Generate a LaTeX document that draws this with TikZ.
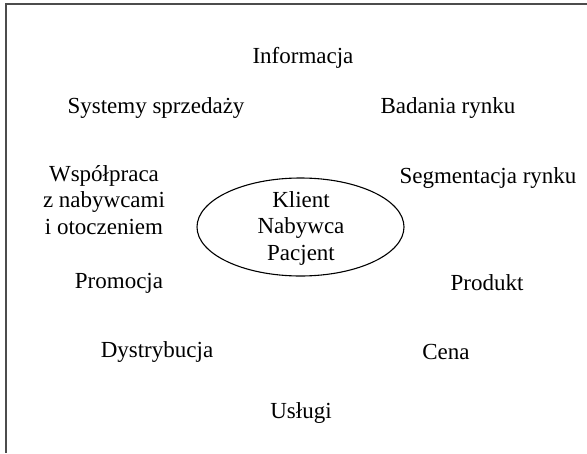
\documentclass[tikz,border=0pt]{standalone}
\usepackage{fontspec}
\setmainfont{Liberation Serif}
\usetikzlibrary{shapes.geometric}
\begin{document}
\begin{tikzpicture}[x=1pt,y=-1pt,
  lbl/.style={inner sep=0pt, align=center, font=\fontsize{23}{26.5}\selectfont},
  frameline/.style={line width=1.6pt, draw=black!70}]
\useasboundingbox (0,0) rectangle (587,453);
\coordinate (tl) at (6,4);
\coordinate (tr) at (587,4);
\coordinate (bl) at (6,453);
\draw[frameline] (tr) -- (tl) -- (bl);
\node[draw, ellipse, line width=1.1pt, minimum width=207pt, minimum height=98pt, inner sep=0pt] (c) at (300.5,227) {};
\node[lbl] (klient) at (301,228) {Klient\\Nabywca\\Pacjent};
\node[lbl] (info) at (303,58) {Informacja};
\node[lbl] (sys) at (156,108) {Systemy sprzedaży};
\node[lbl] (bad) at (448,108) {Badania rynku};
\node[lbl] (wsp) at (104,200) {Współpraca\\z nabywcami\\i otoczeniem};
\node[lbl] (seg) at (488,178) {Segmentacja rynku};
\node[lbl] (prom) at (119,283) {Promocja};
\node[lbl] (prod) at (487,283) {Produkt};
\node[lbl] (dys) at (157,352) {Dystrybucja};
\node[lbl] (cena) at (446,352) {Cena};
\node[lbl] (usl) at (301,413) {Usługi};
\end{tikzpicture}
\end{document}
